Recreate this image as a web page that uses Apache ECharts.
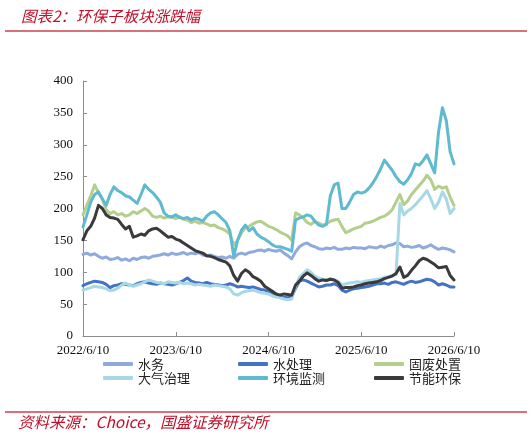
<!DOCTYPE html>
<html>
<head>
<meta charset="utf-8">
<script src="https://cdn.jsdelivr.net/npm/echarts@6/dist/echarts.min.js"></script>
<style>
  html, body { margin: 0; padding: 0; background: #fff; }
  #chart { width: 532px; height: 436px; }
</style>
</head>
<body>
<div id="chart"></div>
<script>
// half-monthly dates, 2022/6/10 .. 2026/6/10
const dates = [];
for (let y = 2022, m = 6; dates.length < 97; ) {
    dates.push(y + '/' + m + '/10');
    if (dates.length < 97) dates.push(y + '/' + m + '/25');
    m++;
    if (m > 12) { m = 1; y++; }
}

const yTicks = [0, 50, 100, 150, 200, 250, 300, 350, 400];

const water = [128, 130, 127, 129, 125, 122, 124, 120, 121, 123, 119, 121, 118, 122, 120, 123, 124, 122, 125, 126,
    127, 129, 127, 130, 128, 129, 131, 128, 130, 129, 131, 127, 126, 127, 125, 123, 124, 122, 125, 122,
    128, 130, 128, 131, 132, 134, 135, 133, 136, 134, 133, 135, 130, 126, 121, 132, 140, 144, 146, 142,
    140, 137, 136, 138, 137, 139, 136, 136, 138, 137, 139, 138, 138, 137, 140, 139, 138, 141, 139, 142,
    143, 146, 145, 140, 141, 139, 140, 142, 138, 140, 143, 139, 136, 138, 137, 135, 132];

const waterTreat = [79, 82, 84, 86, 85, 84, 81, 76, 79, 80, 82, 81, 80, 79, 82, 84, 85, 83, 82, 81,
    83, 82, 81, 80, 82, 84, 87, 91, 86, 84, 83, 82, 84, 82, 81, 80, 79, 80, 82, 80,
    77, 78, 77, 76, 77, 75, 73, 72, 70, 67, 64, 62, 61, 60, 61, 75, 86, 88, 86, 83,
    80, 77, 78, 80, 80, 82, 79, 72, 69, 72, 74, 75, 76, 77, 78, 80, 82, 82, 83, 81,
    84, 85, 83, 81, 84, 86, 84, 85, 87, 89, 88, 85, 80, 82, 80, 77, 77];

const solidWaste = [190, 205, 220, 237, 225, 215, 198, 192, 195, 190, 192, 188, 190, 195, 192, 196, 200, 196, 188, 186,
    188, 185, 187, 186, 184, 187, 183, 182, 178, 180, 177, 178, 176, 173, 174, 170, 168, 165, 160, 143,
    150, 162, 170, 172, 176, 179, 180, 176, 172, 170, 167, 163, 160, 157, 150, 193, 190, 185, 178, 175,
    180, 177, 174, 176, 180, 182, 183, 172, 162, 165, 168, 170, 172, 177, 178, 180, 183, 186, 188, 192,
    198, 210, 222, 206, 212, 222, 229, 236, 243, 252, 245, 230, 235, 232, 234, 218, 205];

const airTreat = [72, 74, 76, 78, 77, 76, 74, 71, 72, 75, 80, 83, 80, 78, 80, 82, 85, 88, 86, 84,
    83, 82, 85, 84, 83, 84, 82, 83, 82, 80, 81, 80, 79, 78, 80, 79, 78, 77, 74, 66,
    64, 68, 70, 71, 72, 70, 68, 67, 66, 63, 61, 60, 58, 57, 58, 78, 92, 98, 104, 100,
    94, 91, 89, 88, 90, 88, 86, 80, 82, 83, 84, 85, 84, 86, 87, 88, 89, 90, 92, 93,
    95, 96, 208, 190, 196, 200, 206, 213, 220, 228, 215, 200, 210, 226, 215, 192, 200];

const monitor = [171, 190, 210, 222, 226, 215, 205, 222, 234, 228, 225, 220, 218, 213, 208, 222, 237, 230, 225, 218,
    210, 193, 188, 187, 190, 186, 184, 186, 182, 185, 183, 180, 188, 193, 195, 190, 184, 178, 165, 125,
    150, 166, 174, 165, 170, 160, 155, 152, 148, 143, 140, 140, 138, 136, 133, 182, 185, 187, 190, 188,
    180, 174, 172, 175, 220, 237, 240, 200, 200, 210, 222, 226, 224, 226, 232, 240, 250, 262, 276, 268,
    260, 250, 242, 238, 245, 255, 270, 268, 275, 284, 270, 256, 320, 358, 338, 289, 270];

const energy = [151, 165, 172, 185, 205, 200, 190, 186, 185, 183, 175, 168, 172, 155, 157, 160, 158, 165, 168, 169,
    165, 160, 155, 156, 152, 150, 146, 142, 138, 134, 132, 130, 126, 125, 123, 120, 118, 116, 110, 95,
    86, 98, 104, 100, 93, 90, 86, 78, 74, 70, 66, 64, 66, 65, 64, 80, 86, 94, 99, 95,
    90, 86, 88, 87, 89, 88, 84, 75, 76, 76, 77, 79, 80, 82, 83, 84, 85, 87, 90, 92,
    94, 98, 108, 92, 95, 103, 110, 118, 122, 120, 116, 112, 107, 108, 109, 95, 88];

const seriesNames = ['水务', '水处理', '固废处置', '大气治理', '环境监测', '节能环保'];
const seriesData = [water, waterTreat, solidWaste, airTreat, monitor, energy];
const seriesColors = ['#8FAADC', '#4472C4', '#B4CF8C', '#A7D8E6', '#5FBAD1', '#3A3A3A'];

const chart = echarts.init(document.getElementById('chart'));

const red = '#C0102A';
const serif = '"Liberation Serif", "Times New Roman", serif';
const cjk = '"Noto Sans CJK SC", sans-serif';

const legendText = { fontFamily: cjk, fontSize: 13, color: '#222', lineHeight: 14 };
function legendCol(left, names) {
    return {
        left: left, top: 352, orient: 'vertical',
        icon: 'roundRect',
        itemWidth: 30, itemHeight: 4, itemGap: 0,
        data: names, textStyle: legendText
    };
}

const option = {
    animation: false,
    backgroundColor: '#fff',
    title: {
        text: '图表2：环保子板块涨跌幅',
        left: 16, top: 3,
        textStyle: { color: red, fontFamily: cjk, fontSize: 15.5, fontWeight: 'normal', fontStyle: 'italic' }
    },
    graphic: [
        { type: 'line', shape: { x1: 5, y1: 31, x2: 527, y2: 31 }, style: { stroke: '#D9707A', lineWidth: 2 } },
        { type: 'line', shape: { x1: 5, y1: 412, x2: 527, y2: 412 }, style: { stroke: '#D9707A', lineWidth: 2 } },
        {
            type: 'text', left: 18, top: 414,
            style: { text: '资料来源：Choice，国盛证券研究所', fill: red, font: 'italic 15.5px "Noto Sans CJK SC", sans-serif' }
        }
    ],
    legend: [
        legendCol(98, [seriesNames[0], seriesNames[3]]),
        legendCol(233, [seriesNames[1], seriesNames[4]]),
        legendCol(369, [seriesNames[2], seriesNames[5]])
    ],
    grid: { left: 83, right: 78, top: 81, bottom: 100, containLabel: false },
    xAxis: {
        type: 'category',
        data: dates,
        boundaryGap: false,
        axisLine: { lineStyle: { color: '#8C8C8C', width: 1 } },
        axisTick: { inside: true, interval: 23, length: 4, lineStyle: { color: '#8C8C8C' } },
        axisLabel: { interval: 23, color: '#111', fontFamily: serif, fontSize: 13, margin: 8 },
        splitLine: { show: false }
    },
    yAxis: {
        type: 'value',
        min: yTicks[0],
        max: yTicks[yTicks.length - 1],
        interval: 50,
        axisLine: { show: true, lineStyle: { color: '#8C8C8C', width: 1 } },
        axisTick: { show: true, inside: true, length: 4, lineStyle: { color: '#8C8C8C' } },
        axisLabel: { color: '#111', fontFamily: serif, fontSize: 13, margin: 10 },
        splitLine: { show: false }
    },
    series: seriesNames.map(function (name, k) {
        return {
            name: name,
            type: 'line',
            data: seriesData[k],
            symbol: 'none',
            color: seriesColors[k],
            lineStyle: { width: 3, color: seriesColors[k], cap: 'round', join: 'round' }
        };
    })
};

chart.setOption(option);
</script>
</body>
</html>
